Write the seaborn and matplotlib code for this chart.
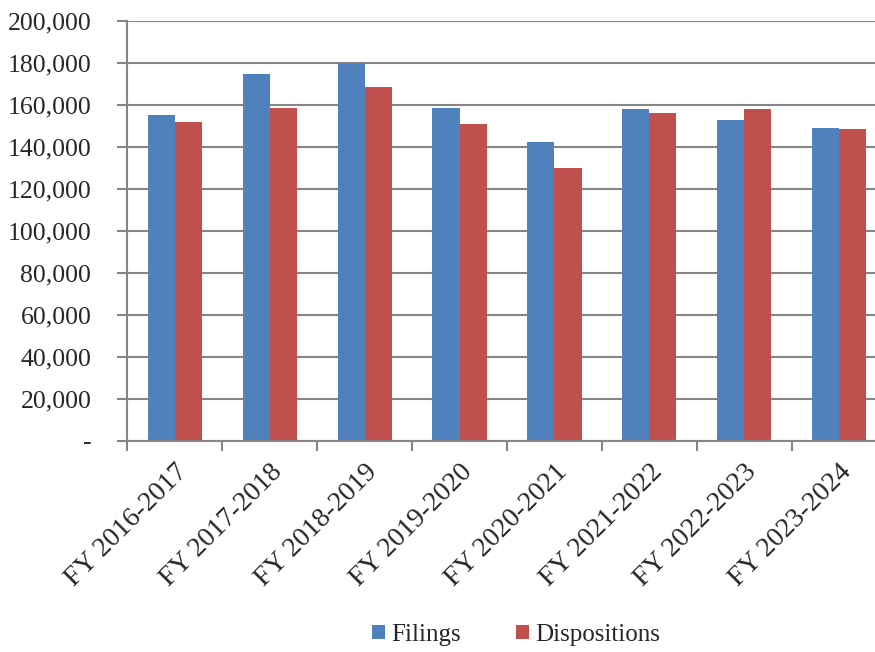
import matplotlib
matplotlib.use("Agg")
import matplotlib.pyplot as plt
import seaborn as sns
import pandas as pd
import numpy as np
from matplotlib.ticker import FuncFormatter, FixedLocator

years = ["FY 2016-2017", "FY 2017-2018", "FY 2018-2019", "FY 2019-2020",
         "FY 2020-2021", "FY 2021-2022", "FY 2022-2023", "FY 2023-2024"]
filings = [155300, 174600, 180000, 158600, 142200, 158200, 153000, 149000]
dispositions = [152000, 158600, 168400, 150800, 130000, 156000, 158000, 148400]

df = pd.DataFrame({
    "year": years * 2,
    "value": filings + dispositions,
    "series": ["Filings"] * len(years) + ["Dispositions"] * len(years),
})

sns.set_style("white")
plt.rcParams['font.family'] = ['Liberation Serif', 'DejaVu Serif']

fig = plt.figure(figsize=(8.75, 6.52), dpi=100)
ax = fig.add_axes([127.4 / 875, (652 - 441) / 652, 759.2 / 875, 420 / 652])

sns.barplot(data=df, x="year", y="value", hue="series",
            palette=["#4f81bd", "#c0504d"], width=0.572, ax=ax,
            edgecolor="none", saturation=1)

ax.set_ylim(0, 200000)
ax.set_xlim(-0.5, len(years) - 0.5)
ax.set_yticks(np.arange(0, 200001, 20000))
ax.yaxis.set_major_formatter(FuncFormatter(lambda v, p: "-" if v == 0 else f"{int(v):,}"))
ax.yaxis.grid(True, color="#868686", linewidth=1.5)
ax.set_axisbelow(True)

for s in ["top", "right"]:
    ax.spines[s].set_visible(False)
for s in ["left", "bottom"]:
    ax.spines[s].set_color("#868686")
    ax.spines[s].set_linewidth(1.5)

ax.tick_params(axis="y", which="major", left=True, length=7, width=1.5,
               color="#868686", labelsize=18.5, pad=19)
ax.xaxis.set_minor_locator(FixedLocator(np.arange(-0.5, len(years), 1)))
ax.tick_params(axis="x", which="minor", bottom=True, length=7, width=1.5, color="#868686")
ax.tick_params(axis="x", which="major", length=0, labelsize=20, pad=13)
ax.set_xticks(range(len(years)))
ax.set_xticklabels(years, rotation=45, ha="right", rotation_mode="anchor")

ax.set_xlabel("")
ax.set_ylabel("")

ax.legend(loc="center", bbox_to_anchor=(516 / 875, 1 - 635 / 652),
          bbox_transform=fig.transFigure, ncol=2, frameon=False,
          fontsize=18, handlelength=0.52, handleheight=0.52,
          handletextpad=0.25, columnspacing=2.2)

fig.savefig("out.png", dpi=100)
